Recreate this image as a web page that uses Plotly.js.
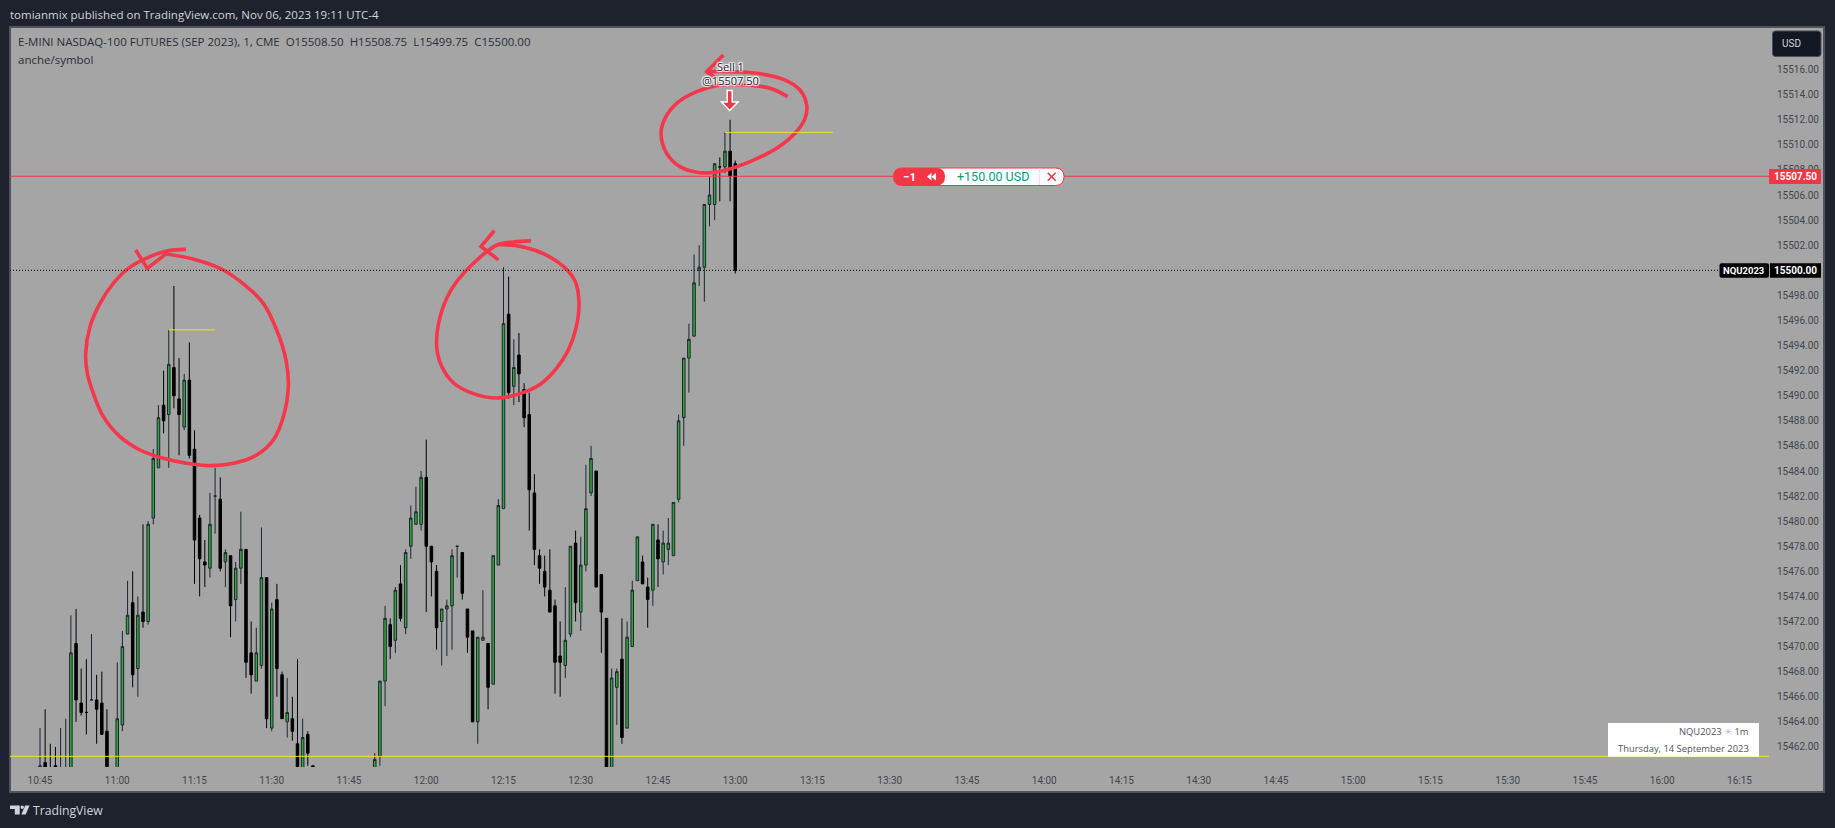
<!DOCTYPE html>
<html><head><meta charset="utf-8">
<script src="https://cdn.plot.ly/plotly-3.0.1.min.js"></script>
<style>html,body{margin:0;padding:0;background:#1e222d}#c{width:1835px;height:828px}</style>
</head><body><div id="c"></div>
<script>
const times=["10:45","10:46","10:47","10:48","10:49","10:50","10:51","10:52","10:53","10:54","10:55","10:56","10:57","10:58","11:00","11:01","11:02","11:03","11:04","11:05","11:06","11:07","11:08","11:09","11:10","11:11","11:12","11:13","11:14","11:15","11:16","11:17","11:18","11:19","11:20","11:21","11:22","11:23","11:24","11:25","11:26","11:27","11:28","11:29","11:30","11:31","11:32","11:33","11:34","11:35","11:36","11:37","11:38",
"11:50","11:51","11:52","11:53","11:54","11:55","11:56","11:57","11:58","11:59","12:00","12:01","12:02","12:03","12:04","12:05","12:06","12:07","12:08","12:09","12:10","12:11","12:12","12:13","12:14","12:15","12:16","12:17","12:18","12:19","12:20","12:21","12:22","12:23","12:24","12:25","12:26","12:27","12:28","12:29","12:30","12:31","12:32","12:33","12:34","12:35","12:36","12:37","12:38","12:39","12:40","12:41","12:42","12:43","12:44","12:45","12:46","12:47","12:48","12:49","12:50","12:51","12:52","12:53","12:54","12:55","12:56","12:57","12:58","12:59","13:00"];
const opens=[15459.75,15460.75,15459.75,15460.5,15459,15459,15459.5,15470.25,15465.5,15464.75,15465.75,15465.75,15465.5,15463.25,15459.5,15463.75,15471,15473.5,15468.25,15472.75,15472,15480.25,15484.25,15489.25,15488.5,15492.25,15489.75,15487.5,15491.25,15485.75,15480.25,15476.75,15476.25,15482,15481.75,15476.75,15477.25,15473.75,15476.25,15477.75,15469.5,15467.25,15468.5,15475.5,15463.5,15473.75,15467.75,15464,15464.25,15462.25,15459.5,15463,15460.5,
15459.5,15461.25,15467.25,15471.75,15470.5,15475,15471.5,15478,15479.75,15479.75,15483.5,15478,15476,15472,15473,15473.25,15478,15477.5,15473,15471.25,15464,15470.5,15470.25,15467,15476.5,15481,15496.5,15490.75,15493.25,15490.5,15488.5,15482.25,15477.25,15476,15474.5,15473.25,15469.25,15468.5,15471,15478.25,15472.75,15476.5,15482.25,15484,15475.75,15472.25,15459.5,15466.75,15469,15463.5,15470,15475.25,15476.75,15474.75,15474.5,15478.5,15476.75,15477.75,15477.25,15481.75,15488.25,15493,15494.75,15500,15500.25,15505.25,15505.25,15508.25,15508.25,15509.5,15508.5];
const highs=[15463.5,15465,15462.25,15462,15463.5,15464.25,15472.5,15473,15468.25,15469,15471,15467.75,15468,15465,15468.75,15471.25,15475.25,15476,15474,15479.75,15480,15485.75,15489.25,15492,15495.25,15498.75,15493,15491.75,15494.25,15487.25,15480.5,15478.5,15482.25,15484.25,15483.5,15477.75,15477.25,15476.75,15480.75,15477.75,15472,15471.5,15479.5,15475.5,15473.5,15475,15468,15467.5,15466,15469,15464.25,15463.25,15460.5,
15461.5,15467.25,15473.25,15472.25,15474.75,15476.5,15477.75,15481.25,15482.75,15484,15486.5,15478,15476.5,15473,15473.75,15477.75,15478,15477.5,15473,15471.25,15470.75,15474.5,15470.25,15477.25,15481.75,15500.25,15499.5,15494.5,15495,15491,15490.25,15483.75,15477.75,15477.25,15477.75,15473.75,15472,15474.75,15478,15479.25,15478.75,15484.5,15486,15484,15475.75,15472.25,15468.25,15468.25,15472.25,15472,15475.25,15478.75,15477.25,15475.5,15479.75,15479.75,15479.25,15480.25,15481.5,15488.5,15493,15495.75,15501.25,15502,15505.25,15507.5,15508.5,15509,15511,15512,15508.75];
const lows=[15459.25,15458.5,15459,15459,15458.75,15458.5,15459,15464,15464.5,15463,15465.75,15462.25,15463,15459,15459,15463.25,15471,15466.75,15466,15471.5,15471.75,15479.75,15484.25,15487,15484.25,15489,15485.25,15487.25,15485,15475,15474,15474.75,15475.5,15479,15476,15474.75,15470.75,15472,15475,15467.5,15466.25,15467.25,15468.25,15463.5,15463.25,15466,15464.25,15462.75,15462.5,15459,15459,15460.5,15459.5,
15459,15460.5,15465.25,15469,15469.5,15472,15471,15477,15479.75,15479.25,15472.75,15474,15469.75,15468.5,15469.25,15469.75,15475.5,15473.75,15469.5,15464,15462.25,15470.5,15465,15467,15476.5,15481,15489.75,15489.25,15489.5,15487.5,15479.25,15476.5,15475,15474,15472.75,15466.25,15466,15467.5,15470.75,15472,15471.25,15476,15482,15474.75,15469.5,15459,15459,15463.75,15462.25,15463.5,15470,15475.25,15475,15471.5,15473.25,15474.75,15475.75,15476.5,15477.25,15481.5,15486,15490.25,15494.75,15498.75,15497.5,15503.5,15504,15505.5,15507.75,15505.5,15499.75];
const closes=[15460.5,15459.25,15459.5,15459.75,15459.75,15460,15469.5,15465.75,15464.75,15464.75,15465.75,15465,15463,15459.5,15464.25,15470,15472.5,15467.75,15472.5,15472,15479.75,15485,15488.25,15488,15492.5,15490,15488.5,15491.25,15485.25,15478.5,15477,15476.5,15479.75,15482,15476.25,15477.5,15473.25,15476.25,15477.75,15468.75,15467.75,15469.5,15475.5,15464.25,15473,15468.25,15464.25,15464.75,15463.25,15459.5,15462.75,15461.5,15459.75,
15461,15467.25,15472.25,15470,15474.5,15472.25,15477.5,15480.25,15480.75,15483.5,15478,15476.75,15471.5,15473,15473.25,15477.25,15478,15474.25,15470.75,15464,15470.75,15470.75,15466.75,15477.25,15481.25,15495.75,15490.25,15492.25,15491.75,15488.25,15482.5,15477.75,15476.25,15474.75,15472.75,15468.75,15468.75,15470.5,15478,15473.5,15476.5,15481,15485,15474.75,15472.75,15459.5,15467.5,15468,15462.75,15470.75,15474.5,15478.75,15475,15473.75,15479.75,15477,15478.25,15478.25,15481.5,15488,15493,15494.5,15499,15500.25,15505.25,15506,15508.5,15508.25,15509.5,15507.5,15500];
const yTicks=[15462,15464,15466,15468,15470,15472,15474,15476,15478,15480,15482,15484,15486,15488,15490,15492,15494,15496,15498,15502,15504,15506,15508,15510,15512,15514,15516];
const xTickLabels=["10:45","11:00","11:15","11:30","11:45","12:00","12:15","12:30","12:45","13:00","13:15","13:30","13:45","14:00","14:15","14:30","14:45","15:00","15:15","15:30","15:45","16:00","16:15"];
const DAY="2023-09-14 ";
const entryPrice=15507.5,lastPrice=15500,supportPrice=15461.25,level1=15495.25,level2=15511;

// Plot box in page pixels
const L=10,R=1769,T=27,B=767;
const xp=v=>(v-L)/(R-L), yp=v=>(B-v)/(B-T);
const FONT='"Open Sans","Noto Sans",sans-serif', NUM='Roboto,"Open Sans",sans-serif';
const RED='#f23645',DARK='#1e222d';

function rr(x0,y0,x1,y1,r){const X=xp,Y=yp;return `M${X(x0+r)} ${Y(y0)}L${X(x1-r)} ${Y(y0)}Q${X(x1)} ${Y(y0)} ${X(x1)} ${Y(y0+r)}L${X(x1)} ${Y(y1-r)}Q${X(x1)} ${Y(y1)} ${X(x1-r)} ${Y(y1)}L${X(x0+r)} ${Y(y1)}Q${X(x0)} ${Y(y1)} ${X(x0)} ${Y(y1-r)}L${X(x0)} ${Y(y0+r)}Q${X(x0)} ${Y(y0)} ${X(x0+r)} ${Y(y0)}Z`;}
function poly(pts){return pts.map((p,i)=>(i?'L':'M')+xp(p[0])+' '+yp(p[1])).join('')+'Z';}
const rect=(x0,y0,x1,y1,fill,line,layer)=>({type:'rect',xref:'paper',yref:'paper',x0:xp(x0),x1:xp(x1),y0:yp(y1),y1:yp(y0),fillcolor:fill,line:line||{width:0},layer:layer||'above'});
const path=(d,fill,line)=>({type:'path',xref:'paper',yref:'paper',path:d,fillcolor:fill,line:line||{width:0},layer:'above'});
const seg=(x0,y0,x1,y1,c,w)=>({type:'line',xref:'paper',yref:'paper',x0:xp(x0),x1:xp(x1),y0:yp(y0),y1:yp(y1),line:{color:c,width:w},layer:'above'});
const hline=(x0,x1,p,c,dash)=>({type:'line',xref:'paper',yref:'y',x0:xp(x0),x1:xp(x1),y0:p,y1:p,line:{color:c,width:1,dash:dash||'solid'},layer:'above'});
const hseg=(t0,t1,p,c)=>({type:'line',xref:'x',yref:'y',x0:DAY+t0,x1:DAY+t1,y0:p,y1:p,line:{color:c,width:1},layer:'above'});

const shapes=[
 rect(10,27,1824,792,'#a5a5a5',{color:'#50535e',width:2},'below'),
 hline(L,R,supportPrice,'#f2e128'),
 hseg('11:10','11:19',level1,'#f2e128'),
 hseg('12:58','13:19',level2,'#f2e128'),
 hline(L,1719,lastPrice,'#000000','1px,2px'),
 hline(L,R,entryPrice,RED),
 path(rr(1772.5,31,1821,56.5,3),'#131722',{color:'#4a4e5a',width:1}),
 rect(1769,169,1821,184,RED),
 path(rr(1719.5,263.3,1769,277.7,2),'#000000'),
 rect(1770,263.3,1821,277.7,'#000000'),
 rect(1608,723,1759,756.7,'#ffffff'),
 // order pill
 path(rr(893.5,168,1064,185.5,8.7),'#ffffff',{color:RED,width:1}),
 path(rr(893.5,168,945,185.5,8.7),RED),
 seg(1039.3,168.5,1039.3,185,'#e0e3eb',1),
 path(poly([[927,176.7],[931.5,172.8],[931.5,180.6]]),'#ffffff'),
 path(poly([[931.5,176.7],[936,172.8],[936,180.6]]),'#ffffff'),
 seg(1047.7,172.7,1055.7,180.7,RED,1.6),
 seg(1047.7,180.7,1055.7,172.7,RED,1.6),
 // sell arrow
 path(poly([[727.2,90.5],[732.2,90.5],[732.2,102],[738,102],[729.7,110.5],[721.5,102],[727.2,102]]),RED,{color:'#ffffff',width:1.5}),
 // TradingView logo
 path(poly([[10,805.5],[19.7,805.5],[19.7,814.5],[14.8,814.5],[14.8,809],[10,809]]),'#d1d4dc'),
 path(poly([[25.2,805.5],[29.6,805.5],[25.7,814.5],[21.3,814.5]]),'#d1d4dc'),
 {type:'circle',xref:'paper',yref:'paper',x0:xp(20.5),x1:xp(24),y0:yp(809),y1:yp(805.5),fillcolor:'#d1d4dc',line:{width:0},layer:'above'}
];

function txt(text,x,y,size,color,anchor,extra){return Object.assign({xref:'paper',yref:'paper',x:xp(x),y:yp(y),text:text,showarrow:false,xanchor:anchor||'left',yanchor:'middle',borderpad:0,borderwidth:0,font:{family:FONT,size:size,color:color}},extra||{});}
const halo='-1px -1px 1px #fff,1px -1px 1px #fff,-1px 1px 1px #fff,1px 1px 1px #fff,0 0 2px #fff';
const annotations=[
 txt('tomianmix published on TradingView.com, Nov 06, 2023 19:11 UTC-4',10,15,11.5,'#d1d4dc'),
 txt('E-MINI NASDAQ-100 FUTURES (SEP 2023), 1, CME&nbsp;&nbsp;O15508.50&nbsp;&nbsp;H15508.75&nbsp;&nbsp;L15499.75&nbsp;&nbsp;C15500.00',18,41.7,11.5,'#2a2e39'),
 txt('anche/symbol',18,59.3,11.5,'#2a2e39'),
 txt('USD',1782,44,10,'#d1d4dc','left',{font:{family:NUM,size:10,color:'#d1d4dc'}}),
 txt('15507.50',1817,176.5,10,'#ffffff','right',{font:{family:NUM,size:10,color:'#ffffff',weight:700}}),
 txt('NQU2023',1764,270.5,9.5,'#ffffff','right',{font:{family:NUM,size:9.5,color:'#ffffff',weight:700}}),
 txt('15500.00',1817,270.5,10,'#ffffff','right',{font:{family:NUM,size:10,color:'#ffffff',weight:700}}),
 txt('−1',909.5,176.5,11.5,'#ffffff','center',{font:{family:NUM,size:11.5,color:'#ffffff',weight:700}}),
 txt('+150.00 USD',993,176.7,12.5,'#089981','center',{font:{family:NUM,size:12.5,color:'#089981'}}),
 txt('NQU2023 <span style="color:#c0c3cc">☀</span> 1m',1749,731.7,9.4,'#50535e','right'),
 txt('Thursday, 14 September 2023',1749,748,9.4,'#50535e','right'),
 txt('Sell 1',730,66,11,'#1e222d','center',{font:{family:FONT,size:11,color:'#1e222d',shadow:halo}}),
 txt('@15507.50',730,80.5,11,'#1e222d','center',{font:{family:FONT,size:11,color:'#1e222d',shadow:halo}}),
 txt('TradingView',33,810,12.2,'#d1d4dc')
];

const candle={type:'candlestick',x:times.map(t=>DAY+t),open:opens,high:highs,low:lows,close:closes,
 width:24000,whiskerwidth:0,hoverinfo:'skip',showlegend:false,
 increasing:{line:{color:'#1c2530',width:1},fillcolor:'#2fa83a'},
 decreasing:{line:{color:'#000000',width:1},fillcolor:'#000000'}};

// Freehand drawings, in reference crop pixels
const zoomA=p=>[70+p[0]/3,240+p[1]/3], zoomB=p=>[340+p[0]/3,230+p[1]/2.75], zoomC=p=>[660+p[0]/3,40+p[1]/3];
const ringA=[[348,28],[290,33],[240,50],[175,85],[130,130],[90,190],[60,260],[47,340],[52,400],[70,460],[100,530],[150,590],[210,630],[280,655],[350,670],[420,677],[490,670],[560,645],[610,600],[640,530],[655,440],[648,360],[620,270],[580,190],[530,140],[460,90],[380,60],[290,42]].map(zoomA);
const barbA=[[197,30],[232,85],[290,40]].map(zoomA);
const ringB=[[573,30],[520,33],[470,42],[420,75],[370,120],[330,170],[300,240],[290,320],[305,375],[340,420],[400,450],[470,462],[540,450],[600,425],[650,380],[685,330],[708,270],[717,200],[705,140],[670,100],[610,65],[540,45],[470,40]].map(zoomB);
const barbB=[[463,2],[423,45],[475,82]].map(zoomB);
const ringC=[[383,170],[330,145],[260,135],[180,135],[110,155],[50,190],[15,235],[3,280],[20,340],[60,380],[120,398],[190,392],[270,365],[350,325],[405,280],[435,235],[440,195],[420,150],[370,118],[290,100],[200,95],[140,95]].map(zoomC);
const barbC=[[190,45],[140,95],[165,112]].map(zoomC);
const ink=(pts,shape)=>({type:'scatter',mode:'lines',xaxis:'x2',yaxis:'y2',x:pts.map(p=>p[0]),y:pts.map(p=>p[1]),
 line:{color:'#f5364b',width:3.6,shape:shape,smoothing:1},hoverinfo:'skip',showlegend:false});

const layout={width:1835,height:828,autosize:false,paper_bgcolor:DARK,plot_bgcolor:'rgba(0,0,0,0)',
 margin:{l:L,r:1835-R,t:T,b:828-B,pad:0},showlegend:false,hovermode:false,dragmode:false,
 xaxis:{type:'date',range:[DAY+'10:39:10.5',DAY+'16:20:43.8'],showgrid:false,zeroline:false,showline:false,
  rangeslider:{visible:false},tickmode:'array',tickvals:xTickLabels.map(t=>DAY+t),ticktext:xTickLabels,
  ticks:'outside',ticklen:4,tickcolor:'rgba(0,0,0,0)',tickfont:{family:NUM,size:10,color:'#42454d'},automargin:false},
 yaxis:{side:'right',range:[15460.4,15519.4],showgrid:false,zeroline:false,showline:false,tickmode:'array',
  tickvals:yTicks,ticktext:yTicks.map(v=>v.toFixed(2)),ticks:'outside',ticklen:5,tickcolor:'rgba(0,0,0,0)',
  tickfont:{family:NUM,size:10,color:'#42454d'},automargin:false},
 xaxis2:{overlaying:'x',range:[L,R],visible:false,anchor:'y2'},
 yaxis2:{overlaying:'y',range:[B,T],visible:false,anchor:'x2'},
 shapes:shapes,annotations:annotations};

Plotly.newPlot('c',[candle,ink(ringA,'spline'),ink(barbA,'linear'),ink(ringB,'spline'),ink(barbB,'linear'),ink(ringC,'spline'),ink(barbC,'linear')],layout,{displayModeBar:false,staticPlot:true});
</script></body></html>
